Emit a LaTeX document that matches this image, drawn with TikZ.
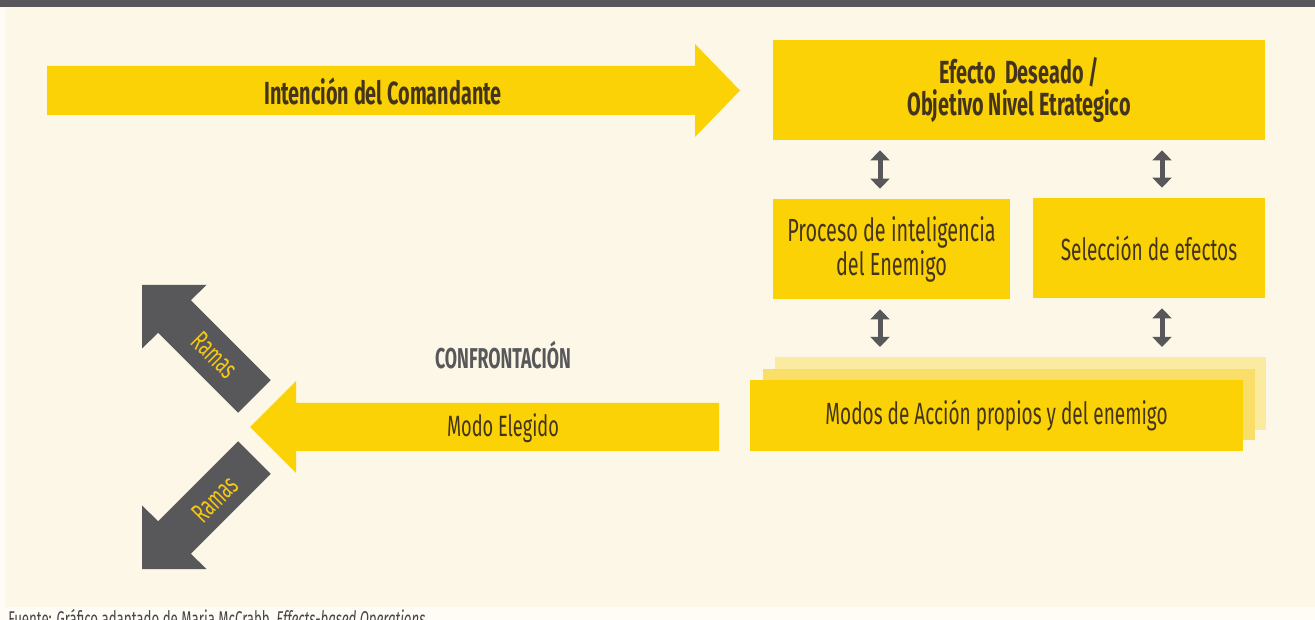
\documentclass[tikz,border=0pt]{standalone}
\usepackage{fontspec}
\setmainfont{Fira Sans}
\newfontfamily\condfont[FakeStretch=0.62]{Fira Sans}
\usetikzlibrary{arrows.meta}
\definecolor{amarillo}{RGB}{250,210,5}
\definecolor{amarillob}{RGB}{249,222,105}
\definecolor{amarilloc}{RGB}{251,235,160}
\definecolor{gris}{RGB}{88,88,90}
\definecolor{crema}{RGB}{252,247,230}
\definecolor{blanco}{RGB}{254,252,245}
\definecolor{marron}{RGB}{68,52,28}
\definecolor{ramas}{RGB}{246,200,20}

\tikzset{
  caja/.style={fill=amarillo, inner sep=0pt, align=center, text=marron, font=\condfont\fontsize{23}{26}\selectfont},
  rotulo/.style={inner sep=0.75pt, align=center, text=marron, font=\condfont\fontsize{22}{26}\selectfont},
  dbl/.style={gris, line width=3.75pt, shorten <=7.5pt, shorten >=7.5pt,
    {Triangle[width=14pt,length=7.5pt]}-{Triangle[width=14pt,length=7.5pt]}}
}

\begin{document}
\begin{tikzpicture}[x=0.75pt,y=0.75pt,yscale=-1,xscale=1]
  \useasboundingbox (0,0) rectangle (1315,620);
  \clip (0,0) rectangle (1315,620);

  % fondo
  \fill[blanco] (0,0) rectangle (1315,620);
  \fill[crema] (5,7) rectangle (1315,607);
  \fill[gris] (0,0) rectangle (1315,7);

  % Intencion del Comandante
  \fill[amarillo] (47,66) -- (695,66) -- (695,44) -- (740,90.5) -- (695,137) -- (695,115) -- (47,115) -- cycle;
  \node[rotulo, font=\condfont\bfseries\fontsize{24}{26}\selectfont] (intencion) at (383,91) {Intención del Comandante};

  % cajas de la derecha
  \node[caja, minimum width=492*0.75pt, minimum height=100*0.75pt, font=\condfont\bfseries\fontsize{24}{24}\selectfont] (efecto) at (1019,90) {Efecto~~Deseado /\\Objetivo Nivel Etrategico};
  \node[caja, minimum width=237*0.75pt, minimum height=100*0.75pt, font=\condfont\fontsize{24}{25.5}\selectfont] (proceso) at (891.5,249) {Proceso de inteligencia\\del Enemigo};
  \node[caja, minimum width=232*0.75pt, minimum height=100*0.75pt] (seleccion) at (1149,248) {Selección de efectos};

  % Modos de accion (hojas apiladas)
  \fill[amarilloc] (775,357) rectangle (1266,430);
  \fill[amarillob] (763,369) rectangle (1255,440);
  \node[caja, minimum width=493*0.75pt, minimum height=71*0.75pt] (modos) at (996.5,415.5) {Modos de Acción propios y del enemigo};

  % flechas dobles
  \coordinate (colizq) at (880,0);
  \coordinate (colder) at (1162,0);
  \draw[dbl] (colizq |- efecto.south) -- (colizq |- proceso.north);
  \draw[dbl] (colder |- efecto.south) -- (colder |- seleccion.north);
  \draw[dbl] (colizq |- proceso.south) -- (880,357);
  \draw[dbl] (colder |- seleccion.south) -- (1162,357);

  % Modo Elegido
  \fill[amarillo] (719,403) -- (296,403) -- (296,381) -- (250,427) -- (296,473) -- (296,451) -- (719,451) -- cycle;
  \node[rotulo] (modo) at (503,428) {Modo Elegido};
  \node[rotulo, text=gris, font=\condfont\bfseries\fontsize{21.5}{24}\selectfont] (confront) at (503,355) {CONFRONTACIÓN};

  % Ramas
  \fill[gris] (142,285) -- (206.5,285) -- (190.8,300.2) -- (270.7,380.1) -- (238.1,412.7) -- (158.2,332.8) -- (142,348.5) -- cycle;
  \fill[gris] (142,569) -- (206.5,569) -- (190.8,553.8) -- (270.7,473.9) -- (238.1,441.3) -- (158.2,521.2) -- (142,505.5) -- cycle;
  \node[rotulo, text=ramas, rotate=-45, font=\condfont\fontsize{21}{24}\selectfont] (ramasa) at (215,355) {Ramas};
  \node[rotulo, text=ramas, rotate=45, font=\condfont\fontsize{21}{24}\selectfont] (ramasb) at (215,499) {Ramas};

  % fuente
  \node[anchor=north west, inner sep=0pt, text=gris!80!black, font=\condfont\fontsize{16}{18}\selectfont] (fuente) at (8,609) {Fuente: Gráfico adaptado de Maria McCrabb, \textit{Effects-based Operations}};
\end{tikzpicture}
\end{document}
